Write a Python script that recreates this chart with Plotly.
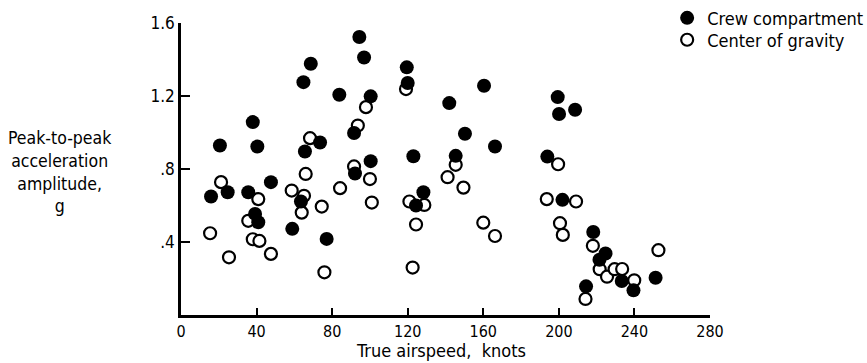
import plotly.graph_objects as go

# Crew compartment (filled circles)
crew_speed = [15.9, 20.6, 24.7, 35.6, 38.0, 39.2, 40.4, 40.9, 47.6, 58.9, 63.5, 64.8,
              65.6, 68.7, 73.6, 77.1, 83.8, 91.6, 92.1, 94.4, 96.9, 100.4, 100.4,
              119.5, 120.0, 123.0, 124.4, 128.3, 142.0, 145.4, 150.3, 160.4, 166.2,
              193.9, 199.4, 200.1, 208.6, 201.9, 218.2, 224.7, 221.5, 233.3, 239.5,
              214.4, 251.2]
crew_accel = [0.649, 0.929, 0.673, 0.673, 1.057, 0.554, 0.923, 0.508, 0.728, 0.472, 0.622, 1.276,
              0.896, 1.377, 0.945, 0.417, 1.207, 0.997, 0.775, 1.523, 1.411, 1.198, 0.843,
              1.357, 1.271, 0.870, 0.600, 0.673, 1.161, 0.872, 0.993, 1.256, 0.923,
              0.868, 1.194, 1.101, 1.125, 0.631, 0.455, 0.337, 0.303, 0.186, 0.135,
              0.157, 0.204]

# Center of gravity (open circles)
cg_speed = [15.4, 21.2, 25.4, 35.6, 38.0, 40.9, 41.5, 47.6, 58.6, 63.9, 65.1, 66.0,
            68.3, 74.5, 75.9, 84.2, 91.6, 93.6, 97.9, 100.0, 101.0, 119.1, 120.9,
            122.6, 124.4, 128.8, 141.1, 145.4, 149.5, 160.0, 166.2, 193.6, 199.6,
            200.6, 202.1, 209.1, 218.0, 221.6, 225.5, 229.5, 233.5, 239.9, 214.1, 252.7]
cg_accel = [0.448, 0.728, 0.316, 0.516, 0.415, 0.635, 0.406, 0.335, 0.682, 0.561, 0.653, 0.773,
            0.969, 0.594, 0.234, 0.695, 0.814, 1.038, 1.139, 0.745, 0.616, 1.238, 0.622,
            0.260, 0.496, 0.603, 0.755, 0.823, 0.698, 0.506, 0.433, 0.635, 0.826,
            0.503, 0.439, 0.622, 0.379, 0.251, 0.210, 0.251, 0.252, 0.190, 0.088, 0.355]

x_ticks = [0, 40, 80, 120, 160, 200, 240, 280]
x_tick_labels = ["0", "40", "80", "120", "160", "200", "240", "280"]
y_ticks = [0.4, 0.8, 1.2, 1.6]
y_tick_labels = [".4", ".8", "1.2", "1.6"]

FONT = "DejaVu Sans Condensed, DejaVu Sans, sans-serif"

fig = go.Figure()
fig.add_trace(go.Scatter(
    x=cg_speed, y=cg_accel, mode="markers", name="Center of gravity",
    marker=dict(size=12, color="white", line=dict(color="black", width=2.2)),
    cliponaxis=False, legend="legend2",
))
fig.add_trace(go.Scatter(
    x=crew_speed, y=crew_accel, mode="markers", name="Crew compartment",
    marker=dict(size=14, color="black", line=dict(color="black", width=0)),
    cliponaxis=False, legend="legend",
))

legend_common = dict(xanchor="left", yanchor="top", font=dict(size=18, color="black"),
                     bgcolor="rgba(0,0,0,0)", borderwidth=0, itemsizing="trace")

fig.update_layout(
    width=867, height=363,
    margin=dict(l=181, r=157, t=23, b=48, autoexpand=False),
    paper_bgcolor="white", plot_bgcolor="white",
    font=dict(family=FONT, size=18, color="black"),
    showlegend=True,
    legend=dict(x=0.919, y=1.08, **legend_common),
    legend2=dict(x=0.919, y=1.005, **legend_common),
    xaxis=dict(range=[0, 280], tickvals=x_ticks, ticktext=x_tick_labels,
               showline=True, linecolor="black", linewidth=2.5,
               ticks="inside", ticklen=7, tickwidth=2, tickcolor="black",
               showgrid=False, zeroline=False, tickfont=dict(size=16)),
    yaxis=dict(range=[0, 1.6], tickvals=y_ticks, ticktext=y_tick_labels,
               showline=True, linecolor="black", linewidth=2.5,
               ticks="inside", ticklen=9, tickwidth=2, tickcolor="black",
               showgrid=False, zeroline=False, tickfont=dict(size=17)),
    annotations=[
        dict(text="True airspeed,  knots", xref="paper", yref="paper",
             x=0.4915, y=-0.123, xanchor="center", yanchor="middle",
             showarrow=False, font=dict(size=18)),
        dict(text="Peak-to-peak<br>acceleration<br>amplitude,<br>g", xref="paper", yref="paper",
             x=-0.2287, y=0.49, xanchor="center", yanchor="middle",
             showarrow=False, font=dict(size=17.5)),
    ],
)

fig.write_html("out.html", config={"displayModeBar": False},
               post_script="document.body.style.margin='0px';")
